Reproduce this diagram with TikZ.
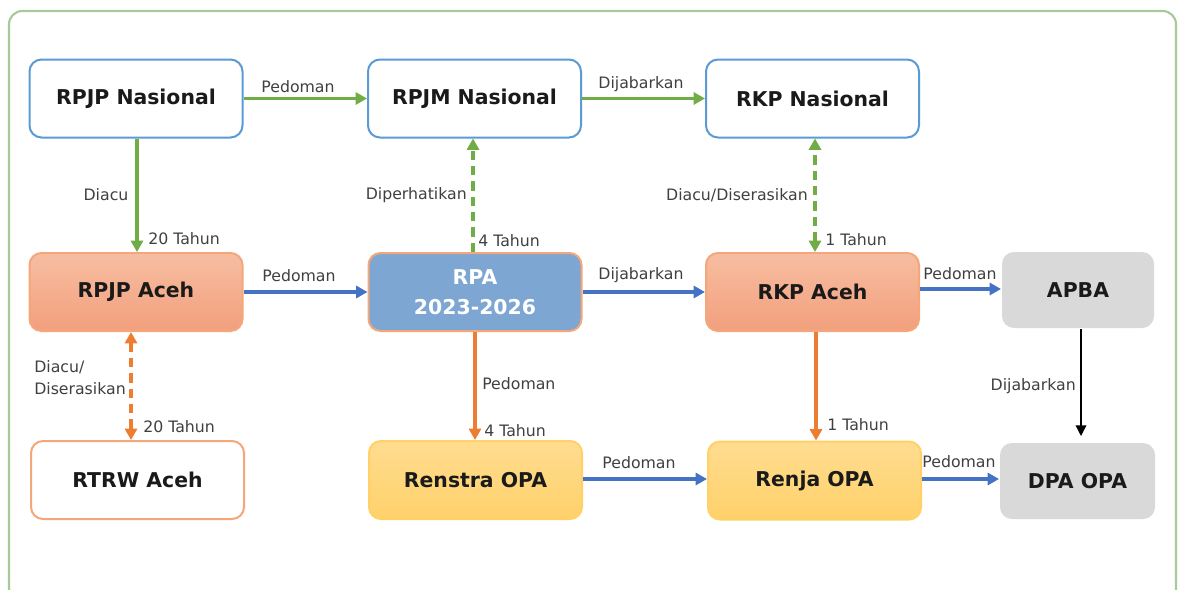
\documentclass[tikz,border=0pt]{standalone}
\usepackage{fontspec}
\setmainfont{DejaVu Sans}
\usetikzlibrary{arrows.meta}
\definecolor{natblue}{HTML}{5B9BD5}
\definecolor{gline}{HTML}{70AD47}
\definecolor{bline}{HTML}{4472C4}
\definecolor{oline}{HTML}{ED7D31}
\definecolor{frameg}{HTML}{A9C99A}
\definecolor{acehdraw}{HTML}{F4A77A}
\definecolor{acehtop}{HTML}{F7BEA2}
\definecolor{acehbot}{HTML}{F29F7C}
\definecolor{rpafill}{HTML}{7EA6D3}
\definecolor{opadraw}{HTML}{FFD166}
\definecolor{opatop}{HTML}{FFDC90}
\definecolor{opabot}{HTML}{FFD16A}
\definecolor{grayfill}{HTML}{D9D9D9}
\definecolor{lbltext}{HTML}{404040}
\definecolor{boxtext}{HTML}{1A1A1A}
\newcommand{\boxfont}{\bfseries\fontsize{15.3}{22.5}\selectfont}
\newcommand{\lblfont}{\fontsize{11.8}{16.5}\selectfont}
\tikzset{
  basebox/.style={rounded corners=9pt, minimum width=159.75pt, minimum height=58.5pt,
    inner sep=0pt, align=center, font=\boxfont, line width=1.5pt, text=boxtext},
  natbox/.style={basebox, draw=natblue, fill=white},
  acehbox/.style={basebox, draw=acehdraw, top color=acehtop, bottom color=acehbot},
  rpabox/.style={basebox, draw=acehdraw, fill=rpafill, text=white},
  rtrwbox/.style={basebox, draw=acehdraw, fill=white},
  opabox/.style={basebox, draw=opadraw, top color=opatop, bottom color=opabot},
  graybox/.style={basebox, fill=grayfill, minimum width=114pt, minimum height=57pt},
  lbl/.style={font=\lblfont, text=lbltext, inner sep=0pt, align=left},
  conn/.style={line width=2.3pt, -{Triangle[length=8.5pt,width=9pt]}},
  garrow/.style={conn, draw=gline, color=gline},
  barrow/.style={conn, draw=bline, color=bline},
  oarrow/.style={conn, draw=oline, color=oline},
  karrow/.style={line width=1pt, -{Triangle[length=8pt,width=8pt]}, black, shorten >=4.5pt},
  dashline/.style={dash pattern=on 7pt off 4.5pt},
  twoheads/.style={{Triangle[length=8.5pt,width=9pt]}-{Triangle[length=8.5pt,width=9pt]}}
}
\begin{document}
\begin{tikzpicture}[x=0.75pt,y=-0.75pt]
\useasboundingbox (0,0) rectangle (1181,589);
\fill[white] (0,0) rectangle (1181,589);
\begin{scope}
\clip (0,0) rectangle (1181,589);
\draw[frameg, line width=1.6pt, rounded corners=10pt] (9,11) rectangle (1176,640);
\end{scope}

% boxes
\node[natbox] (rpjpn) at (136,98.5) {RPJP Nasional};
\node[natbox] (rpjmn) at (474.5,98.5) {RPJM Nasional};
\node[natbox] (rkpn) at (812.5,98.5) {RKP Nasional};
\node[acehbox] (rpjpa) at (136,292) {RPJP Aceh};
\node[rpabox] (rpa) at (475,292) {RPA\\2023-2026};
\node[acehbox] (rkpa) at (812.5,292) {RKP Aceh};
\node[graybox] (apba) at (1078,290) {APBA};
\node[rtrwbox] (rtrw) at (137.5,480) {RTRW Aceh};
\node[opabox] (renstra) at (475.5,480) {Renstra OPA};
\node[opabox] (renja) at (814.5,480.5) {Renja OPA};
\node[graybox, minimum width=116.25pt] (dpa) at (1077.5,481) {DPA OPA};

% connectors
\draw[garrow] (rpjpn.east) -- (rpjmn.west);
\draw[garrow] (rpjmn.east) -- (rkpn.west);
\draw[garrow] (rpjpn.south -| 137,0) -- (rpjpa.north -| 137,0);
\draw[garrow, dashline] (rpa.north -| 473,0) -- (rpjmn.south -| 473,0);
\draw[garrow, dashline, twoheads] (rkpa.north -| 815,0) -- (rkpn.south -| 815,0);
\draw[barrow] (rpjpa.east) -- (rpa.west);
\draw[barrow] (rpa.east) -- (rkpa.west);
\draw[barrow] (rkpa.east |- 0,289) -- (apba.west |- 0,289);
\draw[oarrow, dashline, twoheads] (rpjpa.south -| 131,0) -- (rtrw.north -| 131,0);
\draw[oarrow] (rpa.south -| 475,0) -- (renstra.north -| 475,0);
\draw[oarrow] (rkpa.south -| 816,0) -- (renja.north -| 816,0);
\draw[karrow] (apba.south -| 1081,0) -- (dpa.north -| 1081,0);
\draw[barrow] (renstra.east |- 0,479) -- (renja.west |- 0,479);
\draw[barrow] (renja.east |- 0,479) -- (dpa.west |- 0,479);

% labels
\node[lbl] (l1) at (298,87) {Pedoman};
\node[lbl] (l2) at (641,84) {Dijabarkan};
\node[lbl] (l3) at (106,195) {Diacu};
\node[lbl, anchor=west] (l4) at (148,239) {20 Tahun};
\node[lbl, anchor=east] (l5) at (467,195) {Diperhatikan};
\node[lbl, anchor=west] (l6) at (478,241) {4 Tahun};
\node[lbl, anchor=east] (l7) at (808,195) {Diacu/Diserasikan};
\node[lbl, anchor=west] (l8) at (825,240) {1 Tahun};
\node[lbl] (l9) at (299,276) {Pedoman};
\node[lbl] (l10) at (641,275) {Dijabarkan};
\node[lbl] (l11) at (960,274) {Pedoman};
\node[lbl, anchor=west] (l12) at (34,378) {Diacu/\\Diserasikan};
\node[lbl, anchor=west] (l13) at (143,427) {20 Tahun};
\node[lbl, anchor=west] (l14) at (482,384) {Pedoman};
\node[lbl, anchor=west] (l15) at (484,431) {4 Tahun};
\node[lbl, anchor=west] (l16) at (827,425) {1 Tahun};
\node[lbl, anchor=east] (l17) at (1076,386) {Dijabarkan};
\node[lbl] (l18) at (639,463) {Pedoman};
\node[lbl] (l19) at (959,462) {Pedoman};
\end{tikzpicture}
\end{document}
